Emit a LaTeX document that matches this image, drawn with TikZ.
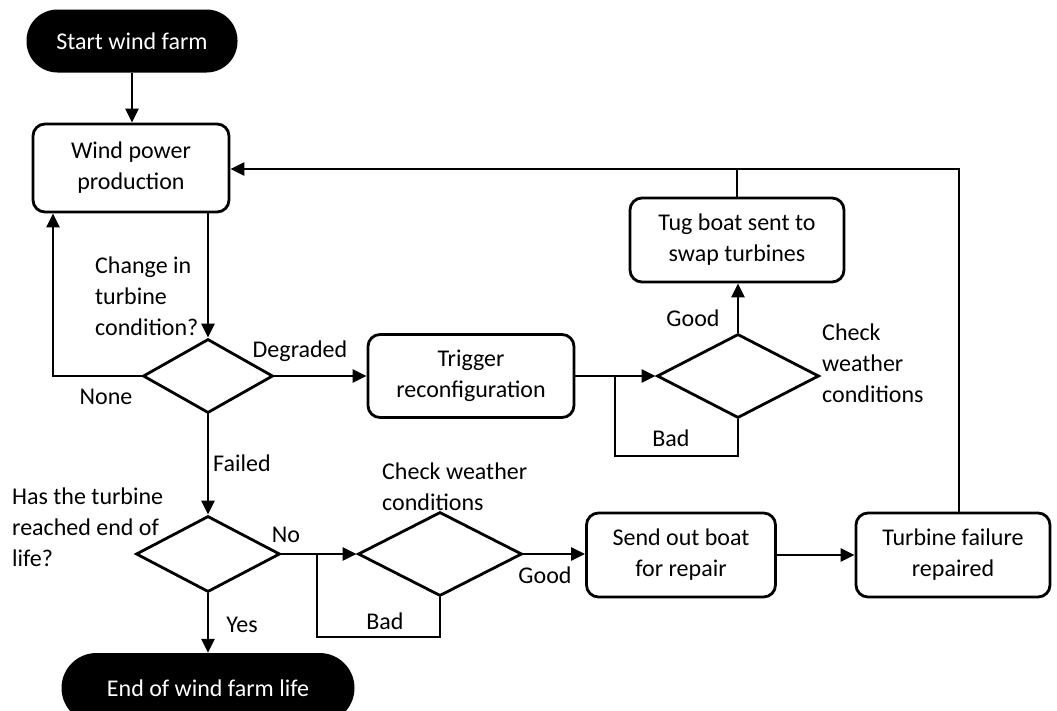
\documentclass[tikz,border=0pt]{standalone}
\usepackage{fontspec}
\setmainfont{Carlito}
\usetikzlibrary{shapes.geometric,arrows.meta}

\tikzset{
  box/.style={draw, line width=2.8pt, rounded corners=12pt, align=center, inner sep=0pt},
  term/.style={fill=black, text=white, align=center, inner sep=0pt},
  choice/.style={draw, diamond, line width=2.8pt, inner sep=0pt},
  lbl/.style={align=left, inner sep=0pt},
  link/.style={line width=2.8pt},
  arr/.style={link, -{Triangle[length=14pt,width=13pt]}},
}

\begin{document}
\begin{tikzpicture}[x=1pt, y=-1pt, font=\fontsize{24}{31}\selectfont]
	\useasboundingbox (0,0) rectangle (1057,710);
	\clip (0,0) rectangle (1057,710);

	% start / end
	\node[term, minimum width=211pt, minimum height=63pt, rounded corners=31pt] (start) at (132,41) {Start wind farm};
	\node[term, minimum width=293pt, minimum height=70pt, rounded corners=35pt] (stop) at (208,688) {End of wind farm life};

	% process boxes
	\node[box, minimum width=196pt, minimum height=88pt] (wind) at (131,168) {Wind power\\production};
	\node[box, minimum width=206pt, minimum height=83pt] (trig) at (471,376) {Trigger\\reconfiguration};
	\node[box, minimum width=214pt, minimum height=84pt] (tug) at (737,240) {Tug boat sent to\\swap turbines};
	\node[box, minimum width=189pt, minimum height=84pt] (send) at (681,555) {Send out boat\\for repair};
	\node[box, minimum width=194pt, minimum height=84pt] (fixd) at (953,555) {Turbine failure\\repaired};

	% decisions
	\node[choice, minimum width=130pt, minimum height=74pt] (d1) at (208,376) {};
	\node[choice, minimum width=162pt, minimum height=84pt] (d2) at (738,376) {};
	\node[choice, minimum width=144pt, minimum height=76pt] (d3) at (208,554) {};
	\node[choice, minimum width=164pt, minimum height=84pt] (d4) at (440,554) {};

	% questions and branch labels
	\node[lbl, anchor=west] (qchg) at (95,296) {Change in\\turbine\\condition?};
	\node[lbl, anchor=west] (qend) at (12,527) {Has the turbine\\reached end of\\life?};
	\node[lbl, anchor=west] (qwx1) at (382,487) {Check weather\\conditions};
	\node[lbl, anchor=west] (qwx2) at (822,363) {Check\\weather\\conditions};
	\node[lbl] (lDeg) at (300,351) {Degraded};
	\node[lbl] (lNone) at (106,397) {None};
	\node[lbl, anchor=west] (lFail) at (213,463) {Failed};
	\node[lbl] (lNo) at (286,535) {No};
	\node[lbl] (lYes) at (242,625) {Yes};
	\node[lbl] (lBad1) at (385,621) {Bad};
	\node[lbl] (lGood1) at (545,575) {Good};
	\node[lbl] (lGood2) at (693,318) {Good};
	\node[lbl] (lBad2) at (671,438) {Bad};

	% corner points of the loops
	\coordinate (noneC) at (53,376);
	\coordinate (badA) at (615,456);
	\coordinate (badB) at (317,637);
	\coordinate (topR) at (959,169);

	\draw[arr] (start.south) -- (start.south |- wind.north);
	\draw[arr] (wind.south -| d1.north) -- (d1.north);
	\draw[arr] (d1.west) -- (noneC) -- (noneC |- wind.south);
	\draw[arr] (d1.east) -- (trig.west);
	\draw[arr] (trig.east) -- (d2.west);
	\draw[link] (d2.south) |- (badA) -- (badA |- trig.east);
	\draw[arr] (d2.north) -- (d2.north |- tug.south);
	\draw[link] (tug.north) -- (tug.north |- topR);
	\draw[arr] (fixd.north -| topR) -- (topR) -- (topR -| wind.east);

	\draw[arr] (d1.south) -- (d3.north);
	\draw[arr] (d3.east) -- (d4.west);
	\draw[link] (d4.south) |- (badB) -- (badB |- d4.west);
	\draw[arr] (d4.east) -- (d4.east -| send.west);
	\draw[arr] (send.east) -- (fixd.west);
	\draw[arr] (d3.south) -- (stop.north);

\end{tikzpicture}
\end{document}
